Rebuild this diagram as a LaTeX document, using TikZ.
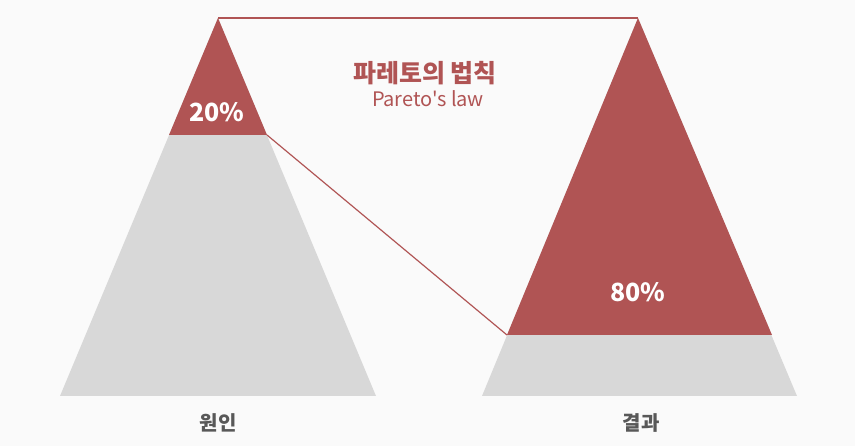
\documentclass[tikz,border=0pt]{standalone}
\usepackage{fontspec}
\newfontfamily\kr{Noto Sans CJK KR}
\definecolor{paretored}{RGB}{176,84,84}
\definecolor{paretogray}{RGB}{216,216,216}
\definecolor{labelgray}{RGB}{88,88,88}
\definecolor{bgwhite}{RGB}{250,250,250}
\tikzset{
  percent/.style={text=white, font=\kr\bfseries\fontsize{25}{29}\selectfont},
  bottomlabel/.style={text=labelgray, font=\kr\bfseries\fontsize{20}{23}\selectfont},
  link/.style={paretored, line width=1.2pt}
}
\begin{document}
\begin{tikzpicture}[x=1pt, y=-1pt]
  \fill[bgwhite] (0,0) rectangle (855,446);
  \useasboundingbox (0,0) rectangle (855,446);

  % Left pyramid (cause)
  \coordinate (A) at (218,18);
  \coordinate (AL) at (60,396);
  \coordinate (AR) at (376,396);
  \coordinate (A1) at (169,135);
  \coordinate (A2) at (267,135);

  % Right pyramid (result)
  \coordinate (B) at (638,18);
  \coordinate (BL) at (482,396);
  \coordinate (BR) at (797,396);
  \coordinate (B1) at (507,335);
  \coordinate (B2) at (772,335);

  \fill[paretogray] (A) -- (AL) -- (AR) -- cycle;
  \fill[paretored] (A) -- (A1) -- (A2) -- cycle;
  \fill[paretogray] (B) -- (BL) -- (BR) -- cycle;
  \fill[paretored] (B) -- (B1) -- (B2) -- cycle;

  % Links
  \draw[link] (A) -- (B);
  \draw[link] (A2) -- (B1);

  % Texts
  \node[percent] (p20) at (217,112) {20\%};
  \node[percent] (p80) at (638,292) {80\%};
  \node[text=paretored, font=\kr\bfseries\fontsize{25}{28}\selectfont] (title) at (425,73) {파레토의 법칙};
  \node[text=paretored, font=\kr\fontsize{20}{23}\selectfont] (subtitle) at (428,99) {Pareto's law};
  \node[bottomlabel] (cause) at (218,423) {원인};
  \node[bottomlabel] (result) at (641,423) {결과};
\end{tikzpicture}
\end{document}
